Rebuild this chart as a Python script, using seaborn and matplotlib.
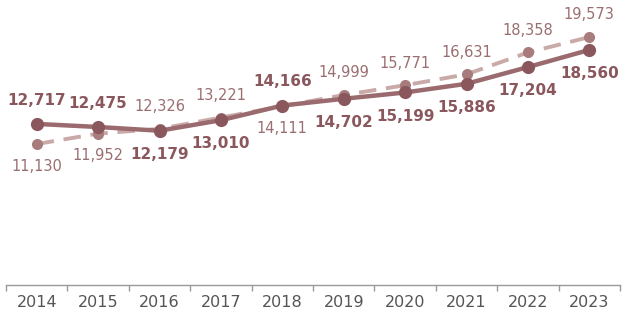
import numpy as np
import pandas as pd
import matplotlib
matplotlib.use("Agg")
import matplotlib.pyplot as plt
import seaborn as sns

years = [2014, 2015, 2016, 2017, 2018, 2019, 2020, 2021, 2022, 2023]
solid_vals = [12717, 12475, 12179, 13010, 14166, 14702, 15199, 15886, 17204, 18560]
dashed_vals = [11130, 11952, 12326, 13221, 14111, 14999, 15771, 16631, 18358, 19573]
# label placement: +1 above the point, -1 below
solid_pos = [1, 1, -1, -1, 1, -1, -1, -1, -1, -1]
dashed_pos = [-1, -1, 1, 1, -1, 1, 1, 1, 1, 1]

DARK = "#8a575c"
DARK_LINE = "#9a6a6e"
LIGHT_MK = "#a87c7d"
LIGHT_LINE = "#c9aaa8"
LABEL_LIGHT = "#9b6e71"

sns.set_style("white")
plt.rcParams["font.family"] = ["DejaVu Sans"]

fig = plt.figure(figsize=(6.26, 3.12), dpi=100)
ax = fig.add_axes([6 / 626, 27 / 312, 614 / 626, 285 / 312])

df = pd.DataFrame({"year": years, "solid": solid_vals, "dashed": dashed_vals})

sns.lineplot(data=df, x="year", y="dashed", ax=ax, color=LIGHT_LINE, linewidth=2.8,
             marker="o", markersize=8, markerfacecolor=LIGHT_MK, markeredgewidth=0)
sns.lineplot(data=df, x="year", y="solid", ax=ax, color=DARK_LINE, linewidth=3.2,
             marker="o", markersize=9.5, markerfacecolor=DARK, markeredgewidth=0)
ax.lines[0].set_dashes([4.5, 2.5])
ax.lines[0].set_zorder(2)
ax.lines[1].set_zorder(3)

for x, v, p in zip(years, solid_vals, solid_pos):
    ax.annotate(f"{v:,}", (x, v), xytext=(0, 17 * p), textcoords="offset points",
                ha="center", va="center", fontsize=11, fontweight="bold", color=DARK)
for x, v, p in zip(years, dashed_vals, dashed_pos):
    ax.annotate(f"{v:,}", (x, v), xytext=(0, 16 * p), textcoords="offset points",
                ha="center", va="center", fontsize=10.5, color=LABEL_LIGHT)

ax.set_xlim(2013.5, 2023.5)
ax.set_ylim(0, 22500)
ax.set_xticks(years)
ax.set_xticklabels([str(y) for y in years], fontsize=11.5, color="#555555")
ax.set_xticks(np.arange(2013.5, 2024, 1), minor=True)
ax.tick_params(axis="x", which="major", bottom=True, length=0, pad=7)
ax.tick_params(axis="x", which="minor", bottom=True, length=4, width=1,
               color="#999999", direction="out")
ax.set_yticks([])
ax.set_xlabel("")
ax.set_ylabel("")
for s in ["top", "right", "left"]:
    ax.spines[s].set_visible(False)
ax.spines["bottom"].set_color("#999999")
ax.spines["bottom"].set_linewidth(1)
ax.patch.set_alpha(0)

fig.savefig("out.png", dpi=100)
